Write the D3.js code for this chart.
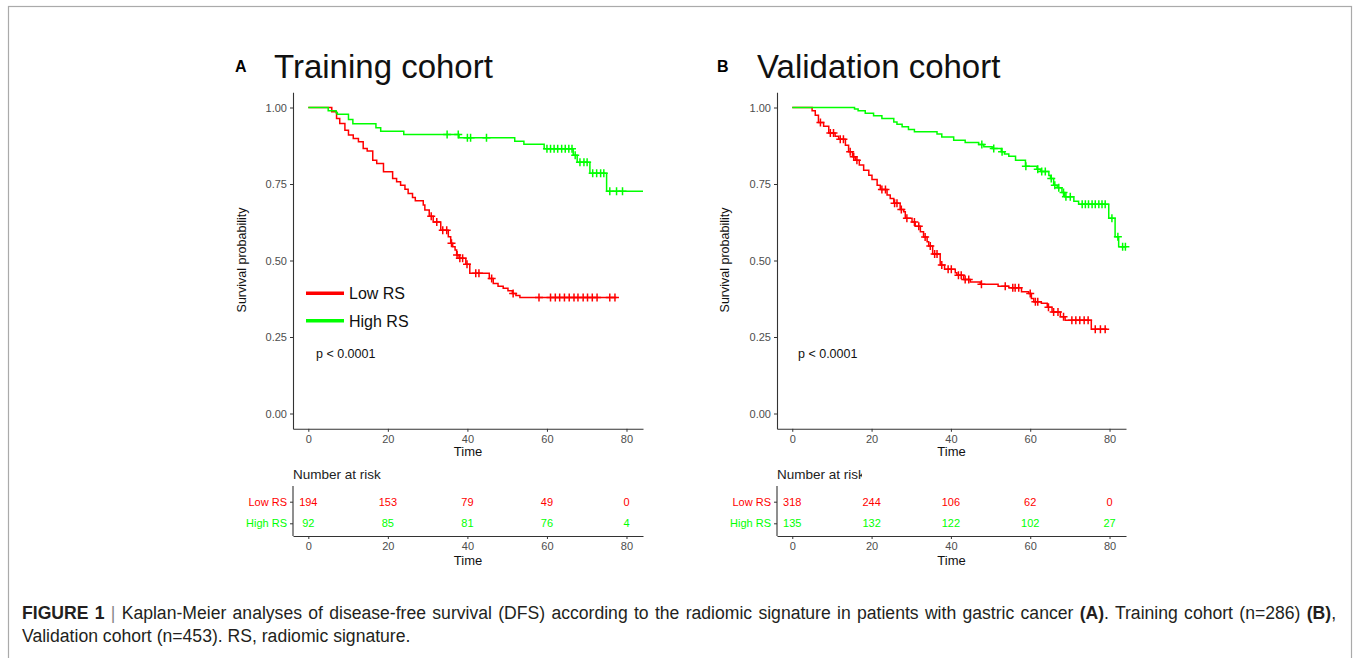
<!DOCTYPE html>
<html>
<head>
<meta charset="utf-8">
<script src="https://cdn.jsdelivr.net/npm/d3@7"></script>
<style>
  body { margin: 0; background: #fff; }
  svg text { font-family: "Liberation Sans", Arial, sans-serif; }
</style>
</head>
<body>
<div id="chart"></div>
<script>
// Tick values and group names
const timeTicks = [0, 20, 40, 60, 80];
const survTicks = [0, 0.25, 0.5, 0.75, 1];
const groups = ["Low RS", "High RS"];

// Training cohort: step points [time, survival]
const trainLowSteps = [[0,1],[5.9,0.986],[7.1,0.964],[7.9,0.948],[9.2,0.926],[10.1,0.910],[11.3,0.899],[12.6,0.888],
  [13.8,0.866],[14.8,0.858],[16.2,0.828],[17.2,0.817],[18.9,0.790],[21.2,0.768],[22.2,0.757],[23.2,0.746],[24.3,0.733],
  [25.1,0.719],[26.2,0.706],[26.9,0.695],[28.9,0.681],[29.3,0.665],[30.4,0.645],[31.4,0.626],[33.3,0.599],[35.2,0.578],
  [35.8,0.556],[36.3,0.545],[36.9,0.534],[37.3,0.518],[37.9,0.507],[39.6,0.488],[40.6,0.458],[45.5,0.441],[46.5,0.425],
  [47.7,0.416],[49.0,0.409],[50.2,0.401],[51.3,0.392],[52.2,0.386],[53.2,0.379]];
const trainLowEnd = 77.5;
const trainLowCensor = [30.9,32.3,33.8,34.8,36.0,37.4,38.1,38.8,39.9,42.1,42.9,46.1,51.5,58.0,60.9,62.1,63.2,64.4,65.6,
  66.8,67.8,69.1,70.2,71.4,72.6,75.8,77.1];

const trainHighSteps = [[0,1],[5.0,0.989],[7.0,0.983],[7.3,0.978],[10.1,0.961],[11.2,0.947],[17.0,0.934],[18.2,0.922],
  [24.0,0.912],[37.9,0.901],[51.9,0.890],[54.2,0.880],[59.3,0.865],[66.6,0.844],[67.6,0.821],[70.8,0.785],[75.0,0.726]];
const trainHighEnd = 84.15;
const trainHighCensor = [34.9,37.7,40.0,40.8,44.8,60.0,60.9,61.8,62.7,63.7,64.6,65.5,66.3,67.1,68.3,69.3,70.1,71.5,72.5,
  73.5,74.3,75.8,77.5,79.0];

// Validation cohort
const validLowSteps = [[0,1],[5.0,0.989],[5.8,0.975],[6.6,0.951],[7.9,0.939],[9.2,0.917],[10.8,0.906],[11.7,0.896],
  [13.4,0.877],[14.2,0.855],[15.2,0.839],[15.9,0.828],[16.9,0.812],[18.0,0.795],[19.3,0.779],[20.1,0.765],[21.4,0.746],
  [22.2,0.732],[23.9,0.714],[24.7,0.703],[25.6,0.687],[27.2,0.667],[28.1,0.659],[28.5,0.638],[30.2,0.626],[31.0,0.612],
  [32.3,0.594],[33.1,0.577],[34.0,0.561],[34.4,0.547],[35.4,0.521],[37.3,0.485],[38.4,0.471],[41.1,0.460],[41.5,0.452],
  [43.2,0.438],[44.9,0.430],[47.4,0.422],[51.9,0.416],[54.6,0.411],[57.8,0.398],[59.6,0.392],[60.3,0.376],[60.9,0.365],
  [62.8,0.360],[64.3,0.347],[65.5,0.332],[67.6,0.316],[68.8,0.305],[75.4,0.275]];
const validLowEnd = 79.4;
const validLowCensor = [7.1,9.6,10.4,12.1,12.9,14.6,15.5,16.3,22.6,23.5,25.8,26.4,27.5,28.9,30.8,31.9,33.5,34.8,35.9,36.5,
  37.7,39.3,40.1,41.9,42.6,43.6,44.5,47.7,53.7,55.6,56.2,57.1,60.0,61.3,61.9,64.6,65.9,67.0,68.4,70.5,71.5,72.5,73.6,74.6,
  76.4,77.7,78.9];

const validHighSteps = [[0,1],[15.7,0.995],[16.6,0.989],[18.4,0.981],[20.5,0.973],[22.6,0.964],[25.6,0.953],[26.4,0.945],
  [27.7,0.937],[29.3,0.928],[30.8,0.921],[36.5,0.913],[37.7,0.904],[40.7,0.893],[43.6,0.886],[47.0,0.879],[48.3,0.872],
  [50.4,0.866],[52.7,0.855],[53.5,0.848],[54.6,0.841],[56.3,0.828],[58.8,0.808],[61.7,0.798],[62.6,0.791],[64.7,0.778],
  [65.1,0.768],[65.9,0.746],[66.8,0.738],[68.0,0.722],[68.7,0.708],[71.0,0.694],[72.2,0.684],[79.8,0.638],[81.4,0.578],
  [82.3,0.545]];
const validHighEnd = 84.15;
const validHighCensor = [47.8,50.8,52.9,58.9,61.9,62.9,63.8,65.3,66.2,67.2,68.4,69.0,70.1,73.1,73.9,74.7,75.6,76.4,77.3,
  78.1,78.9,80.6,82.1,83.3,84.0];

// Number at risk at 0, 20, 40, 60, 80
const trainRiskLow = [194, 153, 79, 49, 0];
const trainRiskHigh = [92, 85, 81, 76, 4];
const validRiskLow = [318, 244, 106, 62, 0];
const validRiskHigh = [135, 132, 122, 102, 27];

const colors = { "Low RS": "#ff0000", "High RS": "#00ff00" };

const svg = d3.select("#chart").append("svg")
    .attr("width", 1356)
    .attr("height", 658);

// outer figure frame
svg.append("rect")
    .attr("x", 8.5).attr("y", 6.5)
    .attr("width", 1343).attr("height", 700)
    .attr("fill", "none")
    .attr("stroke", "#aaaaaa")
    .attr("stroke-width", 1.2);

const y = d3.scaleLinear().domain([-0.05, 1.05]).range([428.8, 92.2]);

function survAt(steps, t) {
    let s = 1;
    steps.forEach(d => { if (d[0] <= t) s = d[1]; });
    return s;
}

function styleAxis(g) {
    g.select(".domain").attr("stroke", "#333").attr("stroke-width", 1.1);
    g.selectAll(".tick line").attr("stroke", "#333");
    g.selectAll(".tick text")
        .attr("fill", "#4d4d4d")
        .style("font-size", "11px")
        .style("font-family", "'Liberation Sans', Arial, sans-serif");
}

function drawPanel(p) {
    const x = d3.scaleLinear().domain([-3.85, 84.15]).range([p.left, p.left + p.width]);
    const g = svg.append("g");

    // panel letter and title
    g.append("text").attr("x", p.letterX).attr("y", 72)
        .style("font-size", "16px").style("font-weight", "bold").text(p.letter);
    g.append("text").attr("x", p.titleX).attr("y", 78)
        .style("font-size", "33px").attr("fill", "#111").text(p.title);

    // axes
    g.append("g").attr("transform", `translate(0,${y.range()[0]})`)
        .call(d3.axisBottom(x).tickValues(timeTicks).tickSize(3).tickSizeOuter(0).tickPadding(3))
        .call(styleAxis);
    g.append("g").attr("transform", `translate(${p.left},0)`)
        .call(d3.axisLeft(y).tickValues(survTicks).tickFormat(d3.format(".2f")).tickSize(3).tickSizeOuter(0).tickPadding(3))
        .call(styleAxis);

    g.append("text")
        .attr("transform", `translate(${p.ylabX},260) rotate(-90)`)
        .attr("text-anchor", "middle")
        .style("font-size", "12.5px").attr("fill", "#111")
        .text("Survival probability");
    g.append("text")
        .attr("x", p.left + p.width / 2).attr("y", 456)
        .attr("text-anchor", "middle")
        .style("font-size", "13px").attr("fill", "#111")
        .text("Time");

    // curves
    const line = d3.line()
        .x(d => x(d[0]))
        .y(d => y(d[1]))
        .curve(d3.curveStepAfter);

    p.series.forEach(sr => {
        const pts = sr.steps.concat([[sr.end, sr.steps[sr.steps.length - 1][1]]]);
        g.append("path")
            .datum(pts)
            .attr("d", line)
            .attr("fill", "none")
            .attr("stroke", colors[sr.name])
            .attr("stroke-width", 1.5);

        g.append("g").selectAll("path")
            .data(sr.censor)
            .join("path")
            .attr("d", t => {
                const cx = x(t), cy = y(survAt(sr.steps, t));
                return `M${cx - 4},${cy}H${cx + 4}M${cx},${cy - 4}V${cy + 4}`;
            })
            .attr("stroke", colors[sr.name])
            .attr("stroke-width", 1.5);
    });

    // legend (only panel A)
    if (p.legend) {
        groups.forEach((name, i) => {
            const ly = 293.3 + i * 27.4;
            g.append("line")
                .attr("x1", 306).attr("x2", 344)
                .attr("y1", ly).attr("y2", ly)
                .attr("stroke", colors[name])
                .attr("stroke-width", 3.5);
            g.append("text")
                .attr("x", 349).attr("y", ly + 5.8)
                .style("font-size", "16px").attr("fill", "#111")
                .text(name);
        });
    }

    g.append("text")
        .attr("x", p.pX).attr("y", 357.5)
        .style("font-size", "12.5px").attr("fill", "#111")
        .text("p < 0.0001");

    // number at risk table
    const rt = svg.append("g");
    const clipId = "clip" + p.letter;
    svg.append("clipPath").attr("id", clipId)
        .append("rect").attr("x", p.left - 5).attr("y", 460).attr("width", p.riskTitleClip).attr("height", 30);
    rt.append("text")
        .attr("x", p.left).attr("y", 479)
        .attr("clip-path", `url(#${clipId})`)
        .style("font-size", "13.5px").attr("fill", "#222")
        .text("Number at risk");

    const ry = d3.scalePoint().domain(groups).range([501.7, 523.3]);
    rt.append("g").attr("transform", "translate(0,536)")
        .call(d3.axisBottom(x).tickValues(timeTicks).tickSize(3).tickSizeOuter(0).tickPadding(3))
        .call(styleAxis);
    const ya = rt.append("g").attr("transform", `translate(${p.left},0)`)
        .call(d3.axisLeft(ry).tickSize(3).tickSizeOuter(0).tickPadding(3))
        .call(styleAxis);
    ya.select(".domain").remove();
    rt.append("line")
        .attr("x1", p.left).attr("x2", p.left)
        .attr("y1", 486).attr("y2", 536)
        .attr("stroke", "#333").attr("stroke-width", 1.1);
    ya.selectAll(".tick text").attr("fill", d => colors[d]);

    rt.append("text")
        .attr("x", p.left + p.width / 2).attr("y", 564.5)
        .attr("text-anchor", "middle")
        .style("font-size", "13px").attr("fill", "#111")
        .text("Time");

    [["Low RS", p.riskLow], ["High RS", p.riskHigh]].forEach(([name, vals]) => {
        rt.append("g").selectAll("text")
            .data(vals)
            .join("text")
            .attr("x", (d, i) => x(timeTicks[i]))
            .attr("y", ry(name) + 4)
            .attr("text-anchor", "middle")
            .style("font-size", "11px")
            .attr("fill", colors[name])
            .text(d => d);
    });
}

drawPanel({
    letter: "A", letterX: 235, title: "Training cohort", titleX: 274,
    left: 293, width: 350, ylabX: 246, pX: 316, legend: true, riskTitleClip: 200,
    series: [
        { name: "Low RS", steps: trainLowSteps, end: trainLowEnd, censor: trainLowCensor },
        { name: "High RS", steps: trainHighSteps, end: trainHighEnd, censor: trainHighCensor }
    ],
    riskLow: trainRiskLow, riskHigh: trainRiskHigh
});

drawPanel({
    letter: "B", letterX: 717, title: "Validation cohort", titleX: 757,
    left: 777, width: 349, ylabX: 729, pX: 798, legend: false, riskTitleClip: 90,
    series: [
        { name: "Low RS", steps: validLowSteps, end: validLowEnd, censor: validLowCensor },
        { name: "High RS", steps: validHighSteps, end: validHighEnd, censor: validHighCensor }
    ],
    riskLow: validRiskLow, riskHigh: validRiskHigh
});

// caption
const cap = svg.append("g").style("font-size", "17.6px").attr("fill", "#231f20");
const line1 = cap.append("text").attr("x", 22).attr("y", 619);
line1.append("tspan").style("font-weight", "bold").text("FIGURE 1");
line1.append("tspan").attr("fill", "#888").text(" | ");
line1.append("tspan").text("Kaplan-Meier analyses of disease-free survival (DFS) according to the radiomic signature in patients with gastric cancer ");
line1.append("tspan").style("font-weight", "bold").text("(A)");
line1.append("tspan").text(". Training cohort (n=286) ");
line1.append("tspan").style("font-weight", "bold").text("(B)");
line1.append("tspan").text(",");
const natural = line1.node().getComputedTextLength();
const spaces = line1.text().split(" ").length - 1;
line1.style("word-spacing", ((1314 - natural) / spaces) + "px");

cap.append("text").attr("x", 22).attr("y", 642)
    .text("Validation cohort (n=453). RS, radiomic signature.");
</script>
</body>
</html>
